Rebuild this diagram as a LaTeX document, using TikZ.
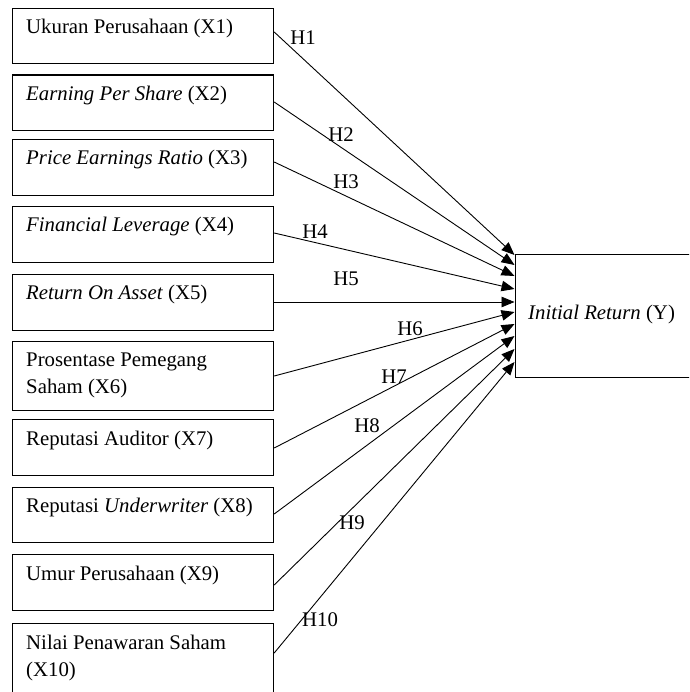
\documentclass[tikz,border=0pt]{standalone}
\usepackage{fontspec}
\setmainfont{Liberation Serif}
\usetikzlibrary{arrows.meta,calc}
\begin{document}
\begin{tikzpicture}[x=1pt,y=-1pt,
  box/.style={draw, line width=1.2pt, rectangle, inner sep=0pt, minimum width=261pt, anchor=north west},
  txt/.style={font=\fontsize{20.8pt}{27pt}\selectfont, inner sep=0pt, anchor=base west},
  hlab/.style={font=\fontsize{20.8pt}{27pt}\selectfont, inner sep=0pt},
  arr/.style={line width=0.9pt, -{Triangle[length=13pt,width=10.5pt]}}]
\useasboundingbox (0,0) rectangle (689,692);
\clip (0,0) rectangle (689,692);
\fill[white] (0,0) rectangle (689,692);
% boxes
\node[box, minimum height=55pt]   (x1)  at (12,8) {};
\node[box, minimum height=55.5pt] (x2)  at (12,74.5) {};
\node[box, minimum height=56pt]   (x3)  at (12,139) {};
\node[box, minimum height=56pt]   (x4)  at (12,206) {};
\node[box, minimum height=56pt]   (x5)  at (12,273.5) {};
\node[box, minimum height=69.5pt] (x6)  at (12,340.5) {};
\node[box, minimum height=56pt]   (x7)  at (12,419) {};
\node[box, minimum height=55.5pt] (x8)  at (12,486.5) {};
\node[box, minimum height=56pt]   (x9)  at (12,554) {};
\node[box, minimum height=80pt]   (x10) at (12,623) {};
\node[box, minimum width=200pt, minimum height=123pt] (Y) at (514.5,254) {};
% texts
\node[txt] (t1)  at ($(x1.north west)+(14,26)$)  {Ukuran Perusahaan (X1)};
\node[txt] (t2)  at ($(x2.north west)+(14,26)$)  {\textit{Earning Per Share} (X2)};
\node[txt] (t3)  at ($(x3.north west)+(14,26)$)  {\textit{Price Earnings Ratio} (X3)};
\node[txt] (t4)  at ($(x4.north west)+(14,26)$)  {\textit{Financial Leverage} (X4)};
\node[txt] (t5)  at ($(x5.north west)+(14,26)$)  {\textit{Return On Asset} (X5)};
\node[txt] (t6)  at ($(x6.north west)+(14,26)$)  {\begin{tabular}[t]{@{}l@{}}Prosentase Pemegang\\Saham (X6)\end{tabular}};
\node[txt] (t7)  at ($(x7.north west)+(14,26)$)  {Reputasi Auditor (X7)};
\node[txt] (t8)  at ($(x8.north west)+(14,26)$)  {Reputasi \textit{Underwriter} (X8)};
\node[txt] (t9)  at ($(x9.north west)+(14,26)$)  {Umur Perusahaan (X9)};
\node[txt] (t10) at ($(x10.north west)+(14,26)$) {\begin{tabular}[t]{@{}l@{}}Nilai Penawaran Saham\\(X10)\end{tabular}};
\node[txt] (ty)  at ($(Y.north west)+(13.5,65)$) {\textit{Initial Return} (Y)};
% arrows
\draw[arr] ($(x1.north east)+(0,24)$)   -- ($(Y.north west)+(0,1)$);
\draw[arr] ($(x2.north east)+(0,27.5)$) -- ($(Y.north west)+(0,11)$);
\draw[arr] ($(x3.north east)+(0,23)$)   -- ($(Y.north west)+(0,22)$);
\draw[arr] ($(x4.north east)+(0,27)$)   -- ($(Y.north west)+(0,35)$);
\draw[arr] ($(x5.north east)+(0,28.5)$) -- ($(Y.north west)+(0,48)$);
\draw[arr] ($(x6.north east)+(0,35.5)$) -- ($(Y.north west)+(0,58)$);
\draw[arr] ($(x7.north east)+(0,29)$)   -- ($(Y.north west)+(0,70)$);
\draw[arr] ($(x8.north east)+(0,27.5)$) -- ($(Y.north west)+(0,82)$);
\draw[arr] ($(x9.north east)+(0,31)$)   -- ($(Y.north west)+(0,95)$);
\draw[arr] ($(x10.north east)+(0,30)$)  -- ($(Y.north west)+(0,108)$);
% hypothesis labels
\node[hlab] (h1)  at (303,38)  {H1};
\node[hlab] (h2)  at (341,135) {H2};
\node[hlab] (h3)  at (346,182) {H3};
\node[hlab] (h4)  at (315,232) {H4};
\node[hlab] (h5)  at (346,279) {H5};
\node[hlab] (h6)  at (410,329) {H6};
\node[hlab] (h7)  at (394,377) {H7};
\node[hlab] (h8)  at (367,426) {H8};
\node[hlab] (h9)  at (352,523) {H9};
\node[hlab] (h10) at (320,620) {H10};
\end{tikzpicture}
\end{document}
